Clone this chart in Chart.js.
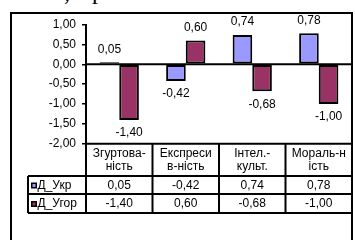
<!DOCTYPE html>
<html>
<head>
<meta charset="utf-8">
<script src="https://cdn.jsdelivr.net/npm/chart.js@4"></script>
<style>
  html, body { margin: 0; padding: 0; background: #fff; overflow: hidden; }
  #wrap { position: relative; width: 355px; height: 240px; }
  #chart { position: absolute; left: 0; top: 0; }
  .cut { position: absolute; font-family: "Liberation Serif", serif; font-size: 24px; line-height: 24px; color: #000; }
</style>
</head>
<body>
<div id="wrap">
  <span class="cut" style="left:64px; top:-20px;">,</span>
  <span class="cut" style="left:92px; top:-21px;">р</span>
  <canvas id="chart" width="355" height="240"></canvas>
</div>
<script>
// дані
const categories = [["Згуртова-", "ність"], ["Експреси", "в-ність"], ["Інтел.-", "культ."], ["Мораль-н", "ість"]];
const seriesNames = ["Д_Укр", "Д_Угор"];
const ukrValues = [0.05, -0.42, 0.74, 0.78];
const ugorValues = [-1.40, 0.60, -0.68, -1.00];
const yTicks = [1, 0.5, 0, -0.5, -1, -1.5, -2];

const colors = ["#9999ff", "#993366"];
const FONT = "12px 'Liberation Sans', Arial, sans-serif";
const fmt = v => v.toFixed(2).replace(".", ",");

// рамка, нульова лінія, підписи і таблиця
const extras = {
  id: "extras",
  afterDatasetsDraw(chart) {
    const ctx = chart.ctx, area = chart.chartArea, y = chart.scales.y;
    ctx.save();
    // zero line
    ctx.strokeStyle = "#000";
    ctx.lineWidth = 2;
    ctx.beginPath();
    ctx.moveTo(area.left, y.getPixelForValue(0));
    ctx.lineTo(area.right, y.getPixelForValue(0));
    ctx.stroke();
    // data labels
    ctx.font = FONT;
    ctx.fillStyle = "#000";
    ctx.textAlign = "center";
    ctx.textBaseline = "middle";
    chart.data.datasets.forEach((ds, i) => {
      chart.getDatasetMeta(i).data.forEach((bar, j) => {
        const v = ds.data[j];
        const off = v >= 0 ? -13 : 13;
        ctx.fillText(fmt(v), bar.x, bar.y + off);
      });
    });
    ctx.restore();
  },
  afterDraw(chart) {
    const ctx = chart.ctx, area = chart.chartArea, x = chart.scales.x;
    const top = area.bottom, r1 = 176, r2 = 194, bot = 213;
    const legL = 28;
    const half = (x.getPixelForValue(1) - x.getPixelForValue(0)) / 2;
    ctx.save();
    ctx.strokeStyle = "#000";
    ctx.lineWidth = 2;
    ctx.beginPath();
    // horizontal lines
    ctx.moveTo(area.left, top); ctx.lineTo(area.right, top);
    ctx.moveTo(legL, r1); ctx.lineTo(area.right, r1);
    ctx.moveTo(legL, r2); ctx.lineTo(area.right, r2);
    ctx.moveTo(legL, bot); ctx.lineTo(area.right, bot);
    // vertical lines
    ctx.moveTo(legL, r1); ctx.lineTo(legL, bot);
    for (let i = 0; i <= categories.length; i++) {
      const px = x.getPixelForValue(0) - half + i * half * 2;
      ctx.moveTo(px, top); ctx.lineTo(px, bot);
    }
    ctx.stroke();

    ctx.font = FONT;
    ctx.fillStyle = "#000";
    ctx.textBaseline = "middle";
    ctx.textAlign = "center";
    categories.forEach((lines, i) => {
      const cx = x.getPixelForValue(i);
      ctx.fillText(lines[0], cx, 154);
      ctx.fillText(lines[1], cx, 166.5);
      ctx.fillText(fmt(ukrValues[i]), cx, 185.5);
      ctx.fillText(fmt(ugorValues[i]), cx, 204);
    });
    // legend keys
    ctx.textAlign = "left";
    [185.5, 204].forEach((ry, i) => {
      ctx.fillStyle = "#000";
      ctx.fillRect(31, ry - 3, 6, 6);
      ctx.fillStyle = colors[i];
      ctx.fillRect(32.5, ry - 1.5, 3, 3);
      ctx.fillStyle = "#000";
      ctx.fillText(seriesNames[i], 37.5, ry);
    });
    // outer frame
    ctx.lineWidth = 2;
    ctx.strokeRect(11, 13, 341, 240);
    ctx.restore();
  }
};

new Chart(document.getElementById("chart"), {
  type: "bar",
  data: {
    labels: categories.map(c => c.join("")),
    datasets: [
      { label: seriesNames[0], data: ukrValues, backgroundColor: colors[0] },
      { label: seriesNames[1], data: ugorValues, backgroundColor: colors[1] }
    ]
  },
  options: {
    responsive: false,
    animation: false,
    layout: { padding: { left: 0, top: 24.6, right: 3, bottom: 96.3 } },
    datasets: {
      bar: {
        borderColor: "#000",
        borderWidth: 2,
        borderSkipped: false,
        categoryPercentage: 0.59,
        barPercentage: 1
      }
    },
    plugins: { legend: { display: false }, tooltip: { enabled: false } },
    scales: {
      x: { display: false },
      y: {
        min: -2,
        max: 1,
        afterFit: s => { s.width = 86; },
        afterBuildTicks: s => { s.ticks = yTicks.map(v => ({ value: v })); },
        ticks: {
          color: "#000",
          font: { family: "'Liberation Sans', Arial, sans-serif", size: 12 },
          padding: 6,
          callback: v => fmt(v)
        },
        grid: { drawOnChartArea: false, drawTicks: true, tickLength: 4, color: "#000", lineWidth: 1.5 },
        border: { display: true, color: "#000", width: 2 }
      }
    }
  },
  plugins: [extras]
});
</script>
</body>
</html>
